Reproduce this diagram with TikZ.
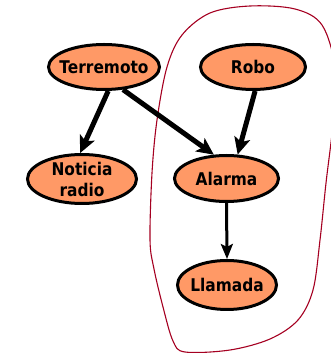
\documentclass[tikz,border=0pt]{standalone}
\usepackage{fontspec}
\setmainfont[FakeStretch=0.88]{DejaVu Sans}
\usetikzlibrary{shapes.geometric,arrows.meta}
\definecolor{nodefill}{RGB}{255,153,102}
\definecolor{loopred}{RGB}{165,0,33}
\tikzset{
  var/.style={ellipse, draw=black, line width=3pt, fill=nodefill, inner sep=0pt},
  vlabel/.style={font=\bfseries\fontsize{17.5}{21}\selectfont, align=center, inner sep=0pt},
  bigarrow/.style={line width=5pt, -{Stealth[length=17pt,width=16pt,inset=4pt]}},
  smallarrow/.style={line width=3pt, -{Stealth[length=15pt,width=12pt,inset=3pt]}},
  region/.style={draw=loopred, line width=1.1pt}
}
\begin{document}
\begin{tikzpicture}[x=1pt,y=1pt]
\useasboundingbox (0,0) rectangle (331,353);
\begin{scope}
\clip (0,0) rectangle (331,353);
\draw[region] plot[smooth cycle, tension=0.55] coordinates {
 (150,113) (152,180) (157,233) (167,286) (182,318) (210,340) (250,347) (295,344)
 (322,328) (335,285) (333,230) (326,170) (320,113) (313,63) (298,33) (270,14)
 (230,3) (185,1) (173,12) (163,46) (154,84)};
\end{scope}
\node[var, minimum width=111pt, minimum height=45pt, label={[vlabel]center:Terremoto}] (T) at (104,286) {};
\node[var, minimum width=105pt, minimum height=45pt, label={[vlabel]center:Robo}] (R) at (253,286) {};
\node[var, minimum width=109pt, minimum height=49pt, label={[vlabel]center:Noticia\\radio}] (N) at (82,174) {};
\node[var, minimum width=104pt, minimum height=46pt, label={[vlabel]center:Alarma}] (A) at (226.5,174.5) {};
\node[var, minimum width=99pt, minimum height=49pt, label={[vlabel]center:Llamada}] (L) at (227,68) {};
\draw[bigarrow] (T.-80) -- (N.94);
\draw[bigarrow] (T.-50) -- (A.118);
\draw[bigarrow] (R.-85) -- (A.65);
\draw[smallarrow] (A.south) -- (L.north);
\end{tikzpicture}
\end{document}
